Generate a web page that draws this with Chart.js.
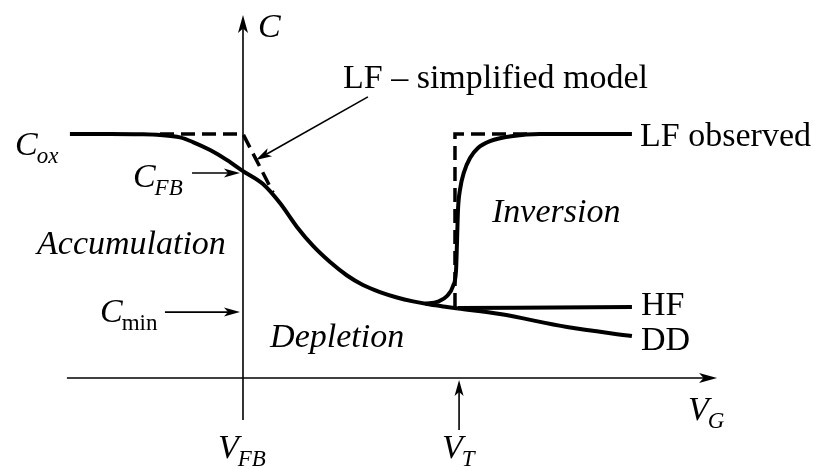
<!DOCTYPE html>
<html>
<head>
<meta charset="utf-8">
<script src="https://cdn.jsdelivr.net/npm/chart.js@4.4.1/dist/chart.umd.min.js"></script>
<style>
  body { margin: 0; background: #fff; }
  #wrap { width: 815px; height: 469px; position: relative; }
</style>
</head>
<body>
<div id="wrap"><canvas id="cvChart"></canvas></div>
<script>
// V_G measured from V_FB (V_FB = 0, V_T = 1), C normalised to C_ox
const accDepV = [-0.805, -0.619, -0.479, -0.386, -0.293, -0.233, -0.153, -0.074, 0.000, 0.093, 0.172, 0.251, 0.326, 0.405, 0.484, 0.558, 0.637, 0.716, 0.791, 0.870, 0.949, 1.000];
const accDepC = [1.000, 1.000, 0.999, 0.996, 0.986, 0.967, 0.934, 0.893, 0.848, 0.795, 0.717, 0.619, 0.541, 0.475, 0.420, 0.381, 0.352, 0.330, 0.314, 0.301, 0.291, 0.285];

const hfV = [1.000, 1.809];
const hfC = [0.287, 0.291];

const ddV = [1.000, 1.195, 1.507, 1.809];
const ddC = [0.285, 0.262, 0.209, 0.172];

const lfObsV = [0.847, 0.907, 0.949, 0.977, 0.991, 0.995, 1.000, 1.009, 1.028, 1.056, 1.093, 1.149, 1.256, 1.381, 1.809];
const lfObsC = [0.304, 0.313, 0.336, 0.377, 0.443, 0.545, 0.689, 0.770, 0.844, 0.902, 0.943, 0.971, 0.992, 1.000, 1.000];

// simplified LF model (dashed)
const lfSimpAccV = [-0.386, 0.000, 0.140];
const lfSimpAccC = [1.000, 1.000, 0.760];
const lfSimpInvV = [0.986, 0.986, 1.335];
const lfSimpInvC = [0.291, 1.000, 1.000];

// axis extents
const vMin = -1.1302, vMax = 2.6605;
const cMin = -0.3730, cMax = 1.5492;

// text on the diagram: [main, subscript, V, C, italic main, italic sub]
const labels = [
  ['C', '', 0.070, 1.398, true, false],
  ['LF – simplified model', '', 0.465, 1.189, false, false],
  ['C', 'ox', -1.060, 0.914, true, true],
  ['C', 'FB', -0.512, 0.783, true, true],
  ['Accumulation', '', -0.958, 0.508, true, false],
  ['C', 'min', -0.665, 0.230, true, false],
  ['Depletion', '', 0.126, 0.127, true, false],
  ['Inversion', '', 1.158, 0.639, true, false],
  ['LF observed', '', 1.847, 0.951, false, false],
  ['HF', '', 1.851, 0.258, false, false],
  ['DD', '', 1.851, 0.115, false, false],
  ['V', 'FB', -0.116, -0.328, true, true],
  ['V', 'T', 0.926, -0.328, true, true],
  ['V', 'G', 2.070, -0.172, true, true]
];

// pointer arrows: [fromV, fromC, toV, toC]
const pointers = [
  [0.581, 1.152, 0.060, 0.893],
  [-0.237, 0.840, -0.014, 0.840],
  [-0.363, 0.270, -0.014, 0.270],
  [1.005, -0.213, 1.005, -0.008]
];

function toPoints(xs, ys) {
  return xs.map((x, i) => ({ x: x, y: ys[i] }));
}

const FONT = "'Liberation Serif', 'Times New Roman', serif";

function arrowHead(ctx, x1, y1, x2, y2, len, half) {
  const a = Math.atan2(y2 - y1, x2 - x1);
  ctx.beginPath();
  ctx.moveTo(x2, y2);
  ctx.lineTo(x2 - len * Math.cos(a) + half * Math.sin(a), y2 - len * Math.sin(a) - half * Math.cos(a));
  ctx.lineTo(x2 - len * 0.75 * Math.cos(a), y2 - len * 0.75 * Math.sin(a));
  ctx.lineTo(x2 - len * Math.cos(a) - half * Math.sin(a), y2 - len * Math.sin(a) + half * Math.cos(a));
  ctx.closePath();
  ctx.fill();
}

function line(ctx, x1, y1, x2, y2, w) {
  ctx.lineWidth = w;
  ctx.beginPath();
  ctx.moveTo(x1, y1);
  ctx.lineTo(x2, y2);
  ctx.stroke();
}

// axes with arrows, drawn under the curves
const axesPlugin = {
  id: 'cvAxes',
  beforeDatasetsDraw(chart) {
    const ctx = chart.ctx;
    const xs = chart.scales.x, ys = chart.scales.y;
    const x0 = xs.getPixelForValue(0), y0 = ys.getPixelForValue(0);
    const yTop = ys.getPixelForValue(1.488), yBot = ys.getPixelForValue(-0.172);
    const xLeft = xs.getPixelForValue(-0.819), xRight = xs.getPixelForValue(2.205);
    ctx.save();
    ctx.strokeStyle = '#000';
    ctx.fillStyle = '#000';
    line(ctx, x0, yBot, x0, yTop + 10, 1.6);
    arrowHead(ctx, x0, yBot, x0, yTop, 18, 5);
    line(ctx, xLeft, y0, xRight - 10, y0, 1.6);
    arrowHead(ctx, xLeft, y0, xRight, y0, 18, 5);
    ctx.restore();
  }
};

// labels and pointer arrows on top
const textPlugin = {
  id: 'cvText',
  afterDatasetsDraw(chart) {
    const ctx = chart.ctx;
    const xs = chart.scales.x, ys = chart.scales.y;
    ctx.save();
    ctx.fillStyle = '#000';
    ctx.strokeStyle = '#000';
    ctx.textBaseline = 'alphabetic';
    ctx.textAlign = 'left';
    labels.forEach(([main, sub, v, c, itMain, itSub]) => {
      const px = xs.getPixelForValue(v), py = ys.getPixelForValue(c);
      ctx.font = (itMain ? 'italic ' : '') + '34px ' + FONT;
      ctx.fillText(main, px, py);
      if (sub) {
        const w = ctx.measureText(main).width;
        ctx.font = (itSub ? 'italic ' : '') + '23px ' + FONT;
        ctx.fillText(sub, px + w - 1, py + 8);
      }
    });
    pointers.forEach(([v1, c1, v2, c2]) => {
      const x1 = xs.getPixelForValue(v1), y1 = ys.getPixelForValue(c1);
      const x2 = xs.getPixelForValue(v2), y2 = ys.getPixelForValue(c2);
      const a = Math.atan2(y2 - y1, x2 - x1);
      line(ctx, x1, y1, x2 - 10 * Math.cos(a), y2 - 10 * Math.sin(a), 1.6);
      arrowHead(ctx, x1, y1, x2, y2, 16, 4.5);
    });
    ctx.restore();
  }
};

const solid = { borderColor: '#000', borderWidth: 4, pointRadius: 0, showLine: true, fill: false, cubicInterpolationMode: 'monotone' };
const dashed = { borderColor: '#000', borderWidth: 3.5, pointRadius: 0, showLine: true, fill: false, borderDash: [14, 7], tension: 0 };

const ctx = document.getElementById('cvChart').getContext('2d');
const cvChart = new Chart(ctx, {
  type: 'scatter',
  data: {
    datasets: [
      Object.assign({ label: 'LF – simplified model', data: toPoints(lfSimpAccV, lfSimpAccC) }, dashed),
      Object.assign({ label: 'LF – simplified model (inv)', data: toPoints(lfSimpInvV, lfSimpInvC) }, dashed),
      Object.assign({ label: 'Accumulation–depletion', data: toPoints(accDepV, accDepC) }, solid),
      Object.assign({ label: 'HF', data: toPoints(hfV, hfC) }, solid),
      Object.assign({ label: 'DD', data: toPoints(ddV, ddC) }, solid),
      Object.assign({ label: 'LF observed', data: toPoints(lfObsV, lfObsC) }, solid)
    ]
  },
  options: {
    responsive: true,
    maintainAspectRatio: false,
    animation: false,
    layout: { padding: 0 },
    scales: {
      x: { type: 'linear', min: vMin, max: vMax, display: false },
      y: { type: 'linear', min: cMin, max: cMax, display: false }
    },
    plugins: {
      legend: { display: false },
      tooltip: { enabled: false }
    }
  },
  plugins: [axesPlugin, textPlugin]
});
</script>
</body>
</html>
